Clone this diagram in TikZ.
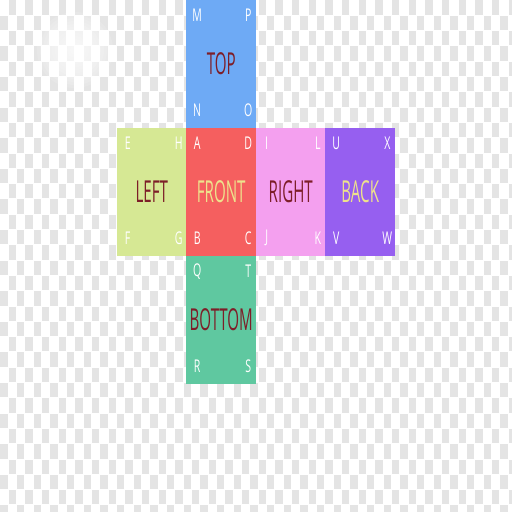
\documentclass[tikz,border=0pt]{standalone}
\usepackage{fontspec}
\newfontfamily\facefont{Open Sans}[FakeStretch=0.5]
\newfontfamily\cornerfont{Open Sans}[FakeStretch=0.6]
\definecolor{checkgray}{RGB}{228,228,228}
\definecolor{topblue}{RGB}{110,170,245}
\definecolor{frontred}{RGB}{245,95,95}
\definecolor{leftgreen}{RGB}{214,232,148}
\definecolor{rightpink}{RGB}{244,160,239}
\definecolor{backpurple}{RGB}{150,95,240}
\definecolor{bottomgreen}{RGB}{95,200,160}
\definecolor{darklabel}{RGB}{125,30,40}
\definecolor{palelabel}{RGB}{238,226,140}

\begin{document}
\begin{tikzpicture}[x=0.025cm,y=-0.025cm,
    face/.style={minimum width=1.7375cm,minimum height=3.2cm,inner sep=0pt,
        font=\facefont\fontsize{21.5}{22}\selectfont},
    corner/.style={text=white,inner sep=0pt,font=\cornerfont\fontsize{12.5}{13}\selectfont}]
\useasboundingbox (0,0) rectangle (512,512);

% transparency grid
\begin{scope}
\clip (0,0) rectangle (512,512);
\fill[white] (0,0) rectangle (512,512);
\foreach \i in {0,...,61}
  \foreach \j in {0,...,16}
    \fill[checkgray] ({\i*8.333+0.5},{(2*\j+mod(\i+1,2))*15.3+0.5}) rectangle +(7.3,14.3);
\end{scope}

% glow
\foreach \r in {38,35,...,5}
  \fill[white,opacity=0.13] (75,50) circle (\r);

% faces
\node[face,fill=topblue,text=darklabel] (top) at (221.25,64) {TOP};
\node[face,fill=leftgreen,text=darklabel] (left) at (151.75,192) {LEFT};
\node[face,fill=frontred,text=palelabel] (front) at (221.25,192) {FRONT};
\node[face,fill=rightpink,text=darklabel] (right) at (290.75,192) {RIGHT};
\node[face,fill=backpurple,text=palelabel] (back) at (360.25,192) {BACK};
\node[face,fill=bottomgreen,text=darklabel] (bottom) at (221.25,320) {BOTTOM};

% corner letters
\foreach \f/\a/\b/\c/\d in {top/M/P/N/O,left/E/H/F/G,front/A/D/B/C,
    right/I/L/J/K,back/U/X/V/W,bottom/Q/T/R/S}{
  \node[corner] at ([shift={(11,15.5)}]\f.north west) {\a};
  \node[corner] at ([shift={(-8,15.5)}]\f.north east) {\b};
  \node[corner] at ([shift={(11,-18)}]\f.south west) {\c};
  \node[corner] at ([shift={(-8,-18)}]\f.south east) {\d};
}
\end{tikzpicture}
\end{document}
